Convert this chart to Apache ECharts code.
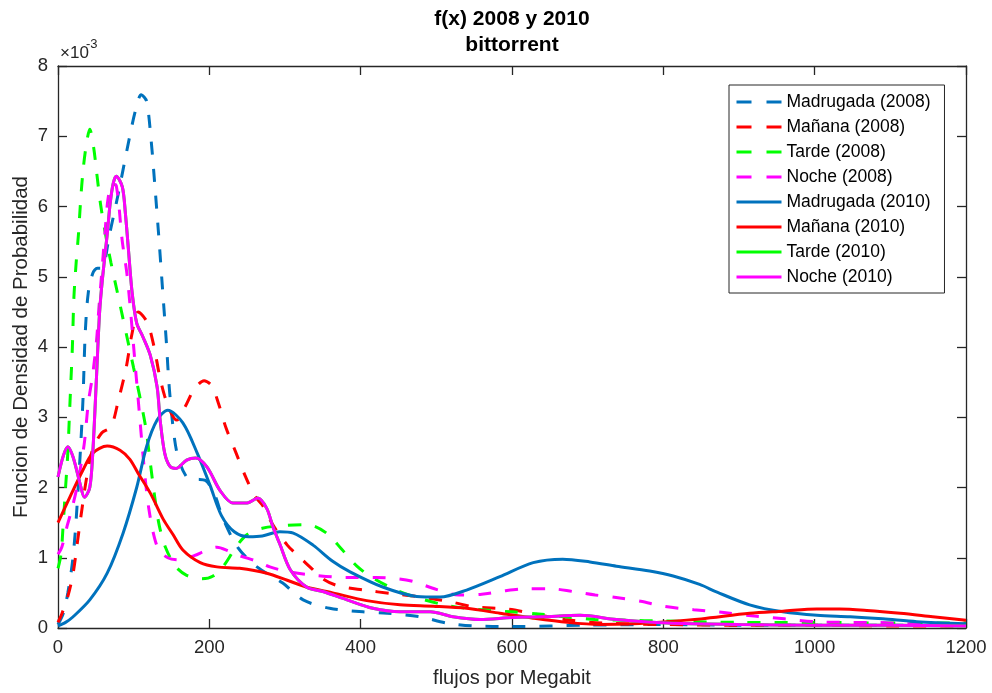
<!DOCTYPE html>
<html>
<head>
<meta charset="utf-8">
<script src="https://cdn.jsdelivr.net/npm/echarts@6/dist/echarts.min.js"></script>
<style>
  html, body { margin: 0; padding: 0; background: #ffffff; }
  #chart { width: 992px; height: 693px; }
</style>
</head>
<body>
<div id="chart"></div>
<script>
// Estimated probability density f(x) of flows per megabit (values in units of 1e-3)
const xTicks = [0, 200, 400, 600, 800, 1000, 1200];
const yTicks = [0, 1, 2, 3, 4, 5, 6, 7, 8];

const seriesNames = [
  'Madrugada (2008)', 'Mañana (2008)', 'Tarde (2008)', 'Noche (2008)',
  'Madrugada (2010)', 'Mañana (2010)', 'Tarde (2010)', 'Noche (2010)'
];

const madrugada2008 = [
  [0,0.05],[7,0.21],[13,0.5],[19,0.93],[23,1.39],[27,2.06],[30,2.6],[33,3.25],[36,4.2],[40,4.77],
  [46,5.05],[52,5.12],[58,5.12],[68,5.6],[80,6.2],[92,6.85],[102,7.35],[110,7.59],[117,7.5],
  [123,6.95],[128,6.3],[133,5.6],[138,4.85],[143,4.1],[148,3.3],[157,2.5],[170,2.15],[182,2.12],
  [195,2.1],[207,1.9],[218,1.56],[238,1.14],[263,0.87],[297,0.64],[324,0.4],[359,0.28],[403,0.23],
  [435,0.21],[478,0.16],[514,0.07],[548,0.03],[600,0.02],[700,0.04],[800,0.05],[900,0.04],
  [1000,0.04],[1100,0.04],[1200,0.03]
];

const manana2008 = [
  [0,0.08],[5,0.2],[13,0.45],[20,0.78],[26,1.25],[32,1.72],[38,2.15],[46,2.55],[58,2.78],[70,2.86],
  [80,3.25],[90,3.7],[98,4.2],[106,4.5],[118,4.35],[127,4.0],[134,3.6],[141,3.3],[150,3.05],
  [157,2.96],[168,3.15],[180,3.4],[193,3.52],[203,3.45],[212,3.2],[222,2.85],[235,2.5],[248,2.15],
  [260,1.88],[270,1.75],[285,1.45],[303,1.18],[320,1.0],[335,0.85],[350,0.7],[370,0.6],[405,0.54],
  [440,0.49],[480,0.44],[520,0.37],[550,0.3],[595,0.27],[630,0.2],[670,0.12],[720,0.07],[800,0.05],
  [900,0.04],[1000,0.04],[1100,0.03],[1200,0.03]
];

const tarde2008 = [
  [0,0.85],[4,1.05],[7,1.5],[10,2.0],[13,2.5],[15,3.0],[17,3.5],[19,4.0],[21,4.7],[24,5.2],
  [27,5.6],[30,6.1],[33,6.5],[37,6.85],[42,7.1],[47,6.85],[52,6.4],[56,6.05],[62,5.65],[70,5.2],
  [78,4.8],[85,4.45],[92,4.1],[100,3.7],[108,3.3],[116,2.85],[122,2.35],[128,1.85],[134,1.45],
  [142,1.15],[155,0.88],[170,0.75],[190,0.7],[205,0.74],[220,0.9],[235,1.15],[250,1.33],[270,1.42],
  [300,1.46],[330,1.47],[355,1.35],[375,1.12],[395,0.88],[415,0.72],[445,0.55],[475,0.43],
  [515,0.32],[560,0.26],[600,0.23],[635,0.2],[670,0.16],[710,0.12],[750,0.11],[800,0.1],[900,0.08],
  [1000,0.08],[1100,0.07],[1200,0.07]
];

const noche2008 = [
  [0,1.05],[5,1.15],[12,1.45],[18,1.68],[25,2.0],[30,2.3],[35,2.65],[40,3.2],[46,3.62],[51,4.1],
  [54,4.55],[57,4.95],[60,5.35],[63,5.75],[66,6.1],[71,6.32],[77,6.3],[85,5.5],[91,5.05],[96,4.5],
  [100,4.0],[104,3.5],[108,3.0],[112,2.5],[116,2.05],[120,1.7],[126,1.35],[133,1.12],[145,1.0],
  [160,0.97],[180,1.03],[195,1.1],[210,1.15],[225,1.1],[240,1.03],[263,0.95],[280,0.87],[305,0.8],
  [340,0.75],[380,0.72],[420,0.72],[450,0.7],[470,0.66],[500,0.55],[530,0.47],[560,0.48],[590,0.53],
  [620,0.56],[650,0.56],[680,0.52],[710,0.47],[740,0.43],[770,0.38],[800,0.31],[840,0.26],[880,0.22],
  [920,0.17],[960,0.13],[1000,0.09],[1040,0.08],[1080,0.08],[1120,0.06],[1200,0.05]
];

const madrugada2010 = [
  [0,0.03],[10,0.08],[20,0.16],[42,0.4],[65,0.78],[86,1.35],[104,2.0],[117,2.58],[131,2.96],
  [145,3.1],[165,2.92],[184,2.49],[201,2.03],[216,1.6],[233,1.37],[252,1.3],[270,1.31],[293,1.37],
  [311,1.35],[337,1.18],[363,0.95],[386,0.8],[430,0.58],[474,0.45],[505,0.44],[540,0.54],[584,0.73],
  [628,0.93],[667,0.98],[703,0.94],[738,0.88],[782,0.81],[813,0.74],[848,0.62],[871,0.51],[914,0.33],
  [958,0.23],[1003,0.18],[1047,0.16],[1090,0.13],[1135,0.09],[1200,0.06]
];

const manana2010 = [
  [0,1.5],[16,1.87],[33,2.25],[46,2.49],[65,2.59],[82,2.53],[95,2.4],[106,2.2],[122,1.92],
  [139,1.55],[152,1.33],[165,1.11],[188,0.93],[210,0.87],[240,0.85],[276,0.78],[303,0.68],[329,0.58],
  [363,0.5],[408,0.39],[452,0.33],[496,0.31],[540,0.28],[584,0.21],[628,0.14],[673,0.08],[716,0.05],
  [760,0.06],[805,0.09],[850,0.13],[914,0.21],[958,0.24],[1003,0.27],[1033,0.27],[1069,0.25],
  [1113,0.21],[1156,0.16],[1200,0.11]
];

const noche2010 = [
  [0,2.15],[7,2.45],[13,2.58],[20,2.43],[29,2.06],[35,1.86],[42,2.0],[46,2.5],[51,3.6],[55,4.5],
  [59,5.0],[65,5.6],[69,6.05],[73,6.33],[77,6.43],[85,6.28],[89,5.91],[93,5.4],[98,4.77],[104,4.34],
  [112,4.15],[122,3.88],[131,3.43],[135,2.96],[141,2.49],[148,2.3],[156,2.27],[170,2.39],[182,2.42],
  [197,2.29],[214,1.96],[231,1.78],[250,1.78],[264,1.85],[276,1.7],[284,1.44],[293,1.2],[307,0.83],
  [329,0.58],[350,0.52],[382,0.4],[416,0.28],[452,0.23],[492,0.23],[522,0.16],[558,0.12],[600,0.15],
  [640,0.16],[690,0.18],[738,0.12],[805,0.07],[900,0.05],[1000,0.04],[1100,0.04],[1200,0.03]
];

// The Tarde 2010 curve coincides with Noche 2010 and is drawn beneath it
const tarde2010 = noche2010;

const seriesData = [
  madrugada2008, manana2008, tarde2008, noche2008,
  madrugada2010, manana2010, tarde2010, noche2010
];
const seriesColors = ['#0072BD', '#FF0000', '#00FF00', '#FF00FF', '#0072BD', '#FF0000', '#00FF00', '#FF00FF'];
const dashed = [true, true, true, true, false, false, false, false];

const FONT = '"Liberation Sans", Arial, Helvetica, sans-serif';
const AXIS_COLOR = '#262626';

const chart = echarts.init(document.getElementById('chart'), null, { renderer: 'canvas' });

const plotLeft = 58, plotTop = 66, plotRight = 966, plotBottom = 628;
const centerX = (plotLeft + plotRight) / 2;
const centerY = (plotTop + plotBottom) / 2;

function axisCommon(showLabels) {
  return {
    axisLine: { show: true, onZero: false, lineStyle: { color: AXIS_COLOR, width: 1.3 } },
    axisTick: { show: true, inside: true, length: 9, lineStyle: { color: AXIS_COLOR, width: 1.3 } },
    axisLabel: {
      show: showLabels, color: AXIS_COLOR, fontSize: 18.5, fontFamily: FONT, margin: 10,
      formatter: v => String(v)
    },
    splitLine: { show: false }
  };
}

const option = {
  backgroundColor: '#ffffff',
  animation: false,
  grid: {
    left: plotLeft, top: plotTop, right: 992 - plotRight, bottom: 693 - plotBottom,
    containLabel: false, outerBoundsMode: 'none'
  },
  xAxis: [
    Object.assign({
      type: 'value', min: xTicks[0], max: xTicks[xTicks.length - 1], interval: 200, position: 'bottom',
      name: 'flujos por Megabit', nameLocation: 'middle', nameGap: 40,
      nameTextStyle: { color: AXIS_COLOR, fontSize: 20, fontFamily: FONT }
    }, axisCommon(true)),
    Object.assign({
      type: 'value', min: xTicks[0], max: xTicks[xTicks.length - 1], interval: 200, position: 'top'
    }, axisCommon(false))
  ],
  yAxis: [
    Object.assign({
      type: 'value', min: yTicks[0], max: yTicks[yTicks.length - 1], interval: 1, position: 'left'
    }, axisCommon(true)),
    Object.assign({
      type: 'value', min: yTicks[0], max: yTicks[yTicks.length - 1], interval: 1, position: 'right'
    }, axisCommon(false))
  ],
  legend: {
    orient: 'vertical',
    left: 729, top: 85,
    padding: [8, 14, 7, 6],
    itemWidth: 45, itemHeight: 14, itemGap: 7,
    backgroundColor: '#ffffff',
    borderColor: AXIS_COLOR, borderWidth: 1,
    itemStyle: { opacity: 0, borderWidth: 0 },
    textStyle: { color: '#000000', fontSize: 17.5, fontFamily: FONT },
    data: seriesNames.map((name, i) => ({
      name: name,
      lineStyle: dashed[i] ? { type: [15, 15], width: 3 } : { width: 3 }
    }))
  },
  graphic: [
    { type: 'text', x: centerX, y: 19, style: { text: 'f(x) 2008 y 2010', font: 'bold 21px ' + FONT, fill: '#000', align: 'center', verticalAlign: 'middle' } },
    { type: 'text', x: centerX, y: 45, style: { text: 'bittorrent', font: 'bold 21px ' + FONT, fill: '#000', align: 'center', verticalAlign: 'middle' } },
    { type: 'text', x: 60, y: 53, style: { text: '\u00d710', font: '17px ' + FONT, fill: AXIS_COLOR, align: 'left', verticalAlign: 'middle' } },
    { type: 'text', x: 86, y: 44, style: { text: '-3', font: '13px ' + FONT, fill: AXIS_COLOR, align: 'left', verticalAlign: 'middle' } },
    {
      type: 'text', x: 21, y: centerY, rotation: Math.PI / 2,
      style: { text: 'Funcion de Densidad de Probabilidad', font: '20.5px ' + FONT, fill: AXIS_COLOR, align: 'center', verticalAlign: 'middle' }
    }
  ],
  series: seriesNames.map((name, i) => ({
    name: name,
    type: 'line',
    data: seriesData[i],
    xAxisIndex: 0,
    yAxisIndex: 0,
    showSymbol: false,
    symbol: 'none',
    smooth: 0.3,
    clip: true,
    lineStyle: { color: seriesColors[i], width: 3, type: dashed[i] ? [13, 14] : 'solid' },
    itemStyle: { color: seriesColors[i] },
    z: 2 + i
  }))
};

chart.setOption(option);
</script>
</body>
</html>
